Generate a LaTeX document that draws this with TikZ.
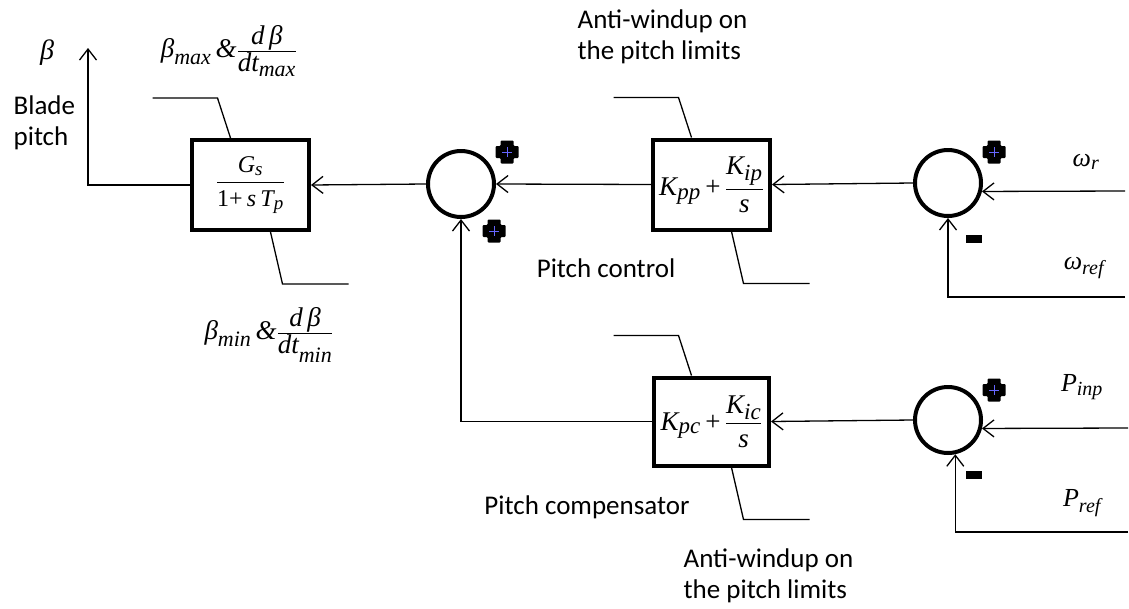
\documentclass[tikz,border=0pt]{standalone}
\usepackage{amsmath}
\usepackage{fontspec}
\setmainfont{Carlito}
\newfontfamily\tmfont{Liberation Serif}
\newcommand\tv[1]{\text{\tmfont\itshape #1}}
\newcommand\tu[1]{\text{\tmfont #1}}
\newcommand\sbx[2]{\text{\fontsize{#1}{#1}\selectfont\tmfont\itshape #2}}
\usetikzlibrary{arrows.meta,calc}

\tikzset{
  blk/.style={draw, line width=4pt, minimum width=117pt, minimum height=90pt, inner sep=0pt},
  sumnode/.style={draw, circle, line width=4pt, minimum size=66pt, inner sep=0pt},
  lbl/.style={font=\fontsize{27}{31}\selectfont, align=left, inner sep=0pt},
  mlbl/.style={font=\fontsize{24}{28}\selectfont},
  klbl/.style={font=\fontsize{27}{30}\selectfont},
  plussign/.pic={
    \fill[rounded corners=1pt] (-6.5,-11.5) -- (6.5,-11.5) -- (6.5,-6) -- (11.5,-6) -- (11.5,6) -- (6.5,6)
      -- (6.5,11.5) -- (-6.5,11.5) -- (-6.5,6) -- (-11.5,6) -- (-11.5,-6) -- (-6.5,-6) -- cycle;
    \draw[blue!60, line width=0.6pt] (-5,0) -- (5,0) (0,-5) -- (0,5);
  }
}

\begin{document}
\begin{tikzpicture}[x=1pt,y=-1pt,>={Straight Barb[length=11pt,width=17pt]},line width=1.3pt]
  \useasboundingbox (0,0) rectangle (1129,608);
  % blocks and summing points
  \node[blk, mlbl] (gs) at (250.5,185) {$\dfrac{\tv{G}_{\sbx{19}{s}}}{\tu{1+}\,\tv{s}\,\tv{T}_{\sbx{19}{p}}}$};
  \node[blk, klbl] (ppc) at (711.5,184.5) {$\tv{K}_{\sbx{23}{pp}}\tu{\,+\,}\dfrac{\tv{K}_{\sbx{23}{ip}}}{\tv{s}}$};
  \node[blk, klbl, minimum width=115pt, minimum height=88pt] (pcomp) at (711.5,421.5) {$\tv{K}_{\sbx{23}{pc}}\tu{\,+\,}\dfrac{\tv{K}_{\sbx{23}{ic}}}{\tv{s}}$};
  \node[sumnode] (sumc) at (461,184) {};
  \node[sumnode] (sumw) at (948,183) {};
  \node[sumnode] (sump) at (948,420) {};
  \foreach \b in {gs,ppc,pcomp} {
    \draw ($(\b.north)+(-20,0)$) -- ++(-13,-40) -- ++(-65,0);
    \draw ($(\b.south)+(20,0)$) -- ++(12,52) -- ++(66,0);
  }
  % signals
  \coordinate (bout) at (88,48);
  \coordinate (wr) at (1125,191);
  \coordinate (wref) at (1125,297);
  \coordinate (pinp) at (1128,428);
  \coordinate (pref) at (1128,532);
  \draw[->] (sumw.west) -- (ppc.east);
  \draw[->] (ppc.west) -- (sumc.east);
  \draw[->] (sumc.west) -- (gs.east);
  \draw[->] (gs.west) -| (bout);
  \draw[->] (sump.west) -- (pcomp.east);
  \draw[->] (pcomp.west) -| (sumc.south);
  \draw[->] (wr) -- (sumw.-14);
  \draw[->] (wref) -| (sumw.south);
  \draw[->] (pinp) -- (sump.-14);
  \draw[->] (pref) -| (sump.-78);
  % signs
  \pic at (507,152) {plussign};
  \pic at (494,231) {plussign};
  \pic at (994,152) {plussign};
  \pic at (994,390) {plussign};
  \fill (966,235) rectangle (982,243);
  \fill (966,471) rectangle (982,479);
  % labels
  \node[klbl] (beta) at (47,53) {$\sbx{28}{β}$};
  \node[lbl, anchor=west] (blade) at (13,123) {Blade\\pitch};
  \node[klbl] (bmax) at (229,51) {$\sbx{27}{β}_{\sbx{22}{max}}\,\sbx{27}{\&}\tfrac{\sbx{27}{d\,β}}{\sbx{27}{dt}_{\sbx{22}{max}}}$};
  \node[klbl] (bmin) at (269,335) {$\sbx{27}{β}_{\sbx{22}{min}}\,\sbx{27}{\&}\tfrac{\sbx{27}{d\,β}}{\sbx{27}{dt}_{\sbx{22}{min}}}$};
  \node[lbl, anchor=west] (awtop) at (577,37) {Anti-windup on\\the pitch limits};
  \node[lbl] (pctl) at (606,268) {Pitch control};
  \node[lbl] (pcmp) at (587,507) {Pitch compensator};
  \node[lbl, anchor=west] (awbot) at (683,576) {Anti-windup on\\the pitch limits};
  \node[klbl] (lwr) at (1086,162) {$\sbx{26}{ω}_{\sbx{20}{r}}$};
  \node[klbl] (lwref) at (1084,268) {$\sbx{26}{ω}_{\sbx{20}{ref}}$};
  \node[klbl] (lpinp) at (1082,387) {$\sbx{26}{P}_{\sbx{20}{inp}}$};
  \node[klbl] (lpref) at (1082,503) {$\sbx{26}{P}_{\sbx{20}{ref}}$};
\end{tikzpicture}
\end{document}
